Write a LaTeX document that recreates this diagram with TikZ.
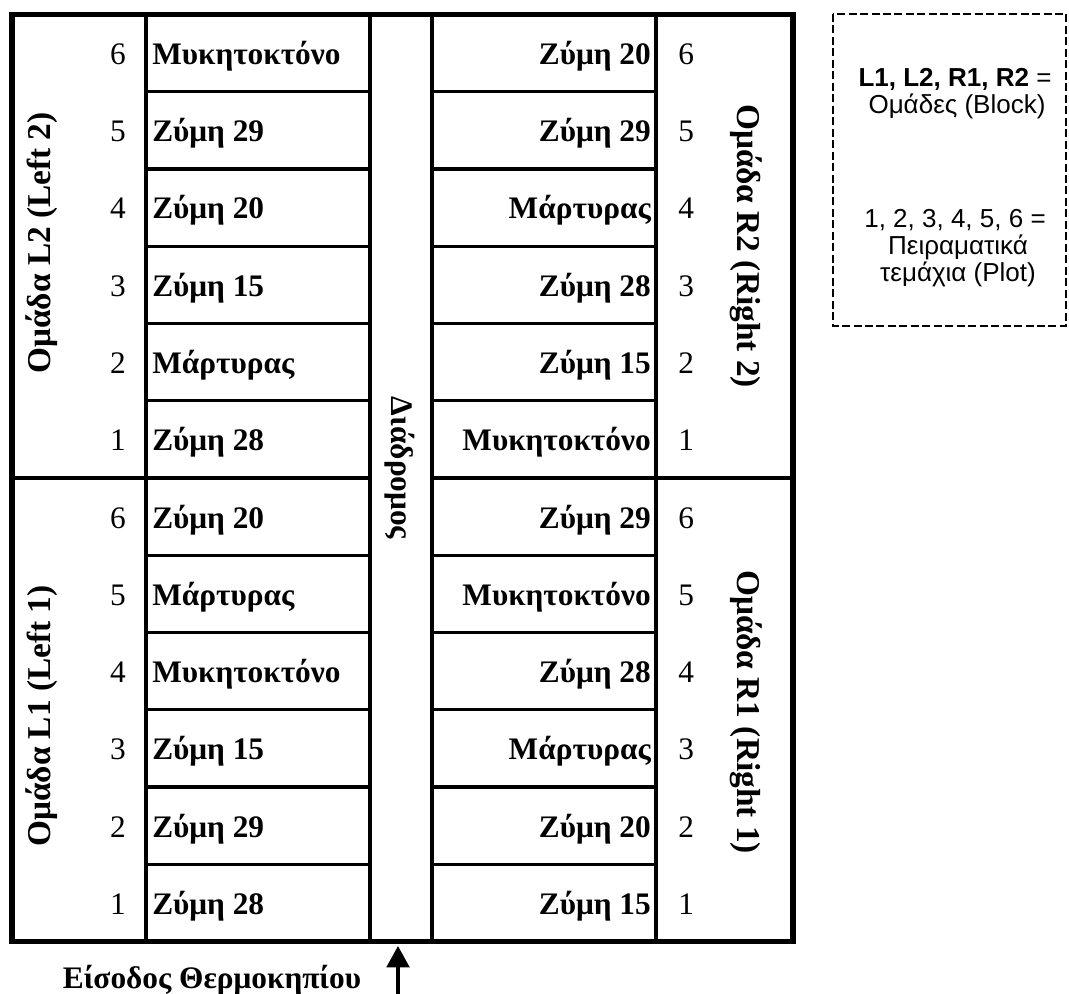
\documentclass[tikz,border=0pt]{standalone}
\usepackage{fontspec}
\setmainfont{Liberation Serif}
\newfontfamily\legendfont{Liberation Sans}
\usetikzlibrary{arrows.meta}

\begin{document}
\begin{tikzpicture}[x=0.75pt,y=-0.75pt,
  plotline/.style={line width=2.3pt},
  borderline/.style={line width=4.2pt},
  midline/.style={line width=3.6pt},
  plottext/.style={font=\fontsize{23.5}{28}\selectfont\bfseries, inner sep=0pt},
  plotnum/.style={font=\fontsize{23.5}{28}\selectfont, inner sep=0pt},
  blocklabel/.style={font=\fontsize{25}{29}\selectfont\bfseries, inner sep=0pt},
  legendtext/.style={font=\legendfont\fontsize{19.5}{22}\selectfont, inner sep=0pt, anchor=base},
  legendbox/.style={line width=1.5pt, dash pattern=on 6pt off 2.6pt},
]
\useasboundingbox (0,0) rectangle (1069,994);

% row separators inside the two plot columns
\foreach \k in {1,...,5,7,8,9,10,11} {
  \draw[plotline] (146,{14.5+\k*77.25}) -- (370,{14.5+\k*77.25});
  \draw[plotline] (432,{14.5+\k*77.25}) -- (656,{14.5+\k*77.25});
}
% column edges
\foreach \x in {146,370,432,656}
  \draw[plotline] (\x,14.5) -- (\x,941.5);

% boundary between the two blocks of each side
\draw[midline] (12,478) -- (370,478);
\draw[midline] (432,478) -- (793,478);

% greenhouse outline
\draw[borderline] (12,14.5) rectangle (793,941.5);

% plot treatments: row index / left treatment / right treatment
\foreach \k/\lt/\rt in {
  0/Μυκητοκτόνο/Ζύμη 20,
  1/Ζύμη 29/Ζύμη 29,
  2/Ζύμη 20/Μάρτυρας,
  3/Ζύμη 15/Ζύμη 28,
  4/Μάρτυρας/Ζύμη 15,
  5/Ζύμη 28/Μυκητοκτόνο,
  6/Ζύμη 20/Ζύμη 29,
  7/Μάρτυρας/Μυκητοκτόνο,
  8/Μυκητοκτόνο/Ζύμη 28,
  9/Ζύμη 15/Μάρτυρας,
  10/Ζύμη 29/Ζύμη 20,
  11/Ζύμη 28/Ζύμη 15} {
  \pgfmathtruncatemacro{\n}{6-mod(\k,6)}
  \pgfmathsetmacro{\yb}{14.5+\k*77.25+50}
  \node[plottext, anchor=base west] (lt\k) at (152,\yb) {\lt};
  \node[plottext, anchor=base east] (rt\k) at (651,\yb) {\rt};
  \node[plotnum, anchor=base east] (ln\k) at (126,\yb) {\n};
  \node[plotnum, anchor=base west] (rn\k) at (678,\yb) {\n};
}

% block labels
\node[blocklabel, rotate=90] (blockL2) at (42,243) {Ομάδα L2 (Left 2)};
\node[blocklabel, rotate=90] (blockL1) at (42,716) {Ομάδα L1 (Left 1)};
\node[blocklabel, rotate=-90] (blockR2) at (746,246) {Ομάδα R2 (Right 2)};
\node[blocklabel, rotate=-90] (blockR1) at (746,712) {Ομάδα R1 (Right 1)};

% corridor
\node[plottext, rotate=-90] (corridor) at (400,468) {Διάδρομος};

% entrance
\node[plottext, anchor=base] (entrance) at (212,988) {Είσοδος Θερμοκηπίου};
\coordinate (arrowtail) at (398,994);
\coordinate (arrowtip) at (398,946);
\draw[line width=2.3pt, -{Triangle[length=16pt,width=17pt]}] (arrowtail) -- (arrowtip);

% legend
\draw[legendbox] (833,14) rectangle (1066,326);
\node[legendtext] (leg1) at (955,87) {\textbf{L1, L2, R1, R2} =};
\node[legendtext] (leg2) at (957,114) {Ομάδες (Block)};
\node[legendtext] (leg3) at (955,228) {1, 2, 3, 4, 5, 6 =};
\node[legendtext] (leg4) at (958,255) {Πειραματικά};
\node[legendtext] (leg5) at (958,282) {τεμάχια (Plot)};
\end{tikzpicture}
\end{document}
